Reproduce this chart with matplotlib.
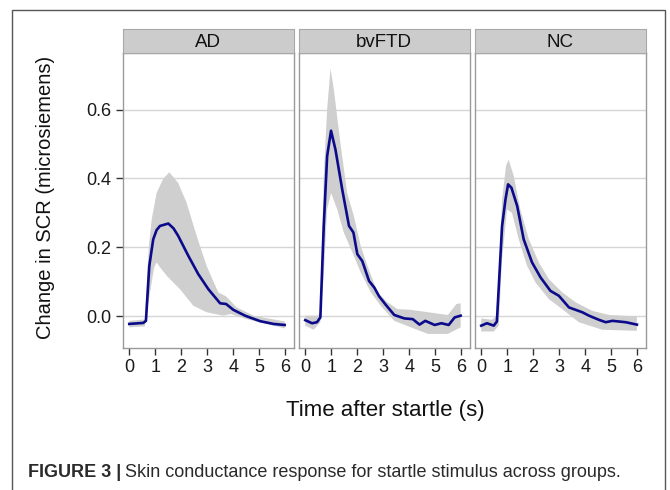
import numpy as np
import matplotlib.pyplot as plt
from matplotlib.patches import Rectangle

plt.rcParams['font.family'] = ['Liberation Sans', 'DejaVu Sans']

groups = ['AD', 'bvFTD', 'NC']

# mean curves (time in s, change in SCR) and band edges
ad_t = [0, 0.54, 0.64, 0.77, 0.92, 1.05, 1.18, 1.5, 1.7, 1.88, 2.27, 2.65, 3.04, 3.49, 3.72, 4.0, 4.45, 5.03, 5.54, 5.97]
ad_m = [-0.023, -0.02, -0.014, 0.146, 0.223, 0.25, 0.262, 0.269, 0.255, 0.233, 0.175, 0.122, 0.078, 0.037, 0.035, 0.018, 0.001, -0.015, -0.023, -0.026]
ad_hi_t = [0, 0.6, 0.75, 0.86, 1.05, 1.31, 1.54, 1.88, 2.2, 2.59, 2.97, 3.42, 3.72, 4.13, 4.77, 5.97]
ad_hi = [-0.014, -0.01, 0.2, 0.28, 0.358, 0.40, 0.418, 0.387, 0.33, 0.233, 0.146, 0.069, 0.057, 0.025, 0.001, -0.016]
ad_lo_t = [0, 0.6, 0.8, 0.95, 1.05, 1.2, 1.44, 1.95, 2.46, 2.97, 3.62, 3.9, 4.51, 5.97]
ad_lo = [-0.033, -0.03, 0.069, 0.14, 0.156, 0.14, 0.117, 0.078, 0.03, 0.011, 0.001, 0.006, -0.009, -0.036]

ftd_t = [0, 0.26, 0.45, 0.58, 0.71, 0.84, 0.99, 1.16, 1.42, 1.68, 1.85, 2.0, 2.19, 2.45, 2.65, 2.84, 3.1, 3.42, 3.81, 4.13, 4.39, 4.61, 4.97, 5.23, 5.51, 5.74, 5.97]
ftd_m = [-0.012, -0.021, -0.018, -0.004, 0.262, 0.465, 0.539, 0.484, 0.368, 0.262, 0.243, 0.18, 0.16, 0.102, 0.083, 0.057, 0.032, 0.003, -0.007, -0.009, -0.025, -0.014, -0.026, -0.021, -0.026, -0.004, 0.001]
ftd_hi_t = [0, 0.45, 0.58, 0.71, 0.84, 0.97, 1.1, 1.35, 1.61, 1.87, 2.13, 2.39, 2.77, 3.16, 3.55, 4.06, 4.71, 5.48, 5.81, 5.97]
ftd_hi = [0.001, 0.001, 0.006, 0.407, 0.6, 0.72, 0.658, 0.503, 0.358, 0.29, 0.204, 0.146, 0.069, 0.04, 0.02, 0.018, 0.011, 0.003, 0.035, 0.037]
ftd_lo_t = [0, 0.32, 0.58, 0.71, 0.84, 0.99, 1.23, 1.48, 1.81, 2.13, 2.52, 2.9, 3.42, 4.06, 4.71, 5.48, 5.97]
ftd_lo = [-0.028, -0.04, -0.018, 0.117, 0.31, 0.358, 0.31, 0.243, 0.185, 0.127, 0.069, 0.03, -0.014, -0.033, -0.052, -0.052, -0.033]

nc_t = [0, 0.22, 0.48, 0.6, 0.8, 0.93, 1.03, 1.16, 1.38, 1.63, 1.95, 2.28, 2.66, 2.98, 3.37, 3.88, 4.14, 4.52, 4.78, 5.04, 5.55, 5.98]
nc_m = [-0.028, -0.021, -0.028, -0.016, 0.262, 0.339, 0.383, 0.373, 0.32, 0.223, 0.156, 0.112, 0.073, 0.059, 0.025, 0.011, 0.001, -0.011, -0.018, -0.014, -0.018, -0.025]
nc_hi_t = [0, 0.41, 0.6, 0.8, 0.95, 1.05, 1.25, 1.5, 1.83, 2.21, 2.6, 3.11, 3.62, 4.27, 4.91, 5.98]
nc_hi = [-0.007, -0.011, 0.001, 0.339, 0.436, 0.455, 0.407, 0.31, 0.223, 0.156, 0.107, 0.069, 0.04, 0.015, 0.003, -0.001]
nc_lo_t = [0, 0.48, 0.67, 0.8, 0.99, 1.18, 1.44, 1.76, 2.08, 2.6, 3.11, 3.75, 4.65, 5.98]
nc_lo = [-0.045, -0.045, -0.028, 0.165, 0.31, 0.3, 0.223, 0.146, 0.098, 0.049, 0.02, -0.018, -0.04, -0.043]

curves = {
    'AD': (ad_t, ad_m, ad_hi_t, ad_hi, ad_lo_t, ad_lo),
    'bvFTD': (ftd_t, ftd_m, ftd_hi_t, ftd_hi, ftd_lo_t, ftd_lo),
    'NC': (nc_t, nc_m, nc_hi_t, nc_hi, nc_lo_t, nc_lo),
}

W, H = 670, 490
fig = plt.figure(figsize=(6.7, 4.9), dpi=100)

# outer frame
fig.patches.append(Rectangle((12 / W, -0.1), (665 - 12) / W, 1.1 - 10 / H,
                             transform=fig.transFigure, fill=False,
                             edgecolor='#555555', linewidth=1.0))

lefts = [122.5, 298.5, 474.5]
pw = 171
top, bottom = 53, 348

for i, g in enumerate(groups):
    ax = fig.add_axes([lefts[i] / W, (H - bottom) / H, pw / W, (bottom - top) / H])
    t, m, ht, hi, lt, lo = curves[g]
    xs = np.r_[ht, lt[::-1]]
    ys = np.r_[hi, lo[::-1]]
    ax.fill(xs, ys, color='#cfcfcf', linewidth=0, zorder=1)
    ax.plot(t, m, color='#0a0a8a', linewidth=1.9, zorder=3)
    ax.set_xlim(-0.26, 6.31)
    ax.set_ylim(-0.093, 0.765)
    ax.set_yticks([0.0, 0.2, 0.4, 0.6])
    ax.set_xticks(range(7))
    ax.grid(axis='y', color='#d6d6d6', linewidth=1.0)
    ax.set_axisbelow(True)
    for s in ax.spines.values():
        s.set_color('#9a9a9a')
        s.set_linewidth(1.0)
    ax.tick_params(axis='x', direction='out', length=5, width=1, color='#333333',
                   labelsize=13, labelcolor='#1a1a1a', pad=3)
    if i == 0:
        ax.set_yticklabels(['0.0', '0.2', '0.4', '0.6'])
        ax.tick_params(axis='y', direction='out', length=5, width=1, color='#333333',
                       labelsize=13, labelcolor='#1a1a1a', pad=3)
    else:
        ax.tick_params(axis='y', length=0, labelleft=False)

    # facet strip
    sax = fig.add_axes([lefts[i] / W, (H - top) / H, pw / W, 24 / H])
    sax.set_facecolor('#cccccc')
    sax.set_xticks([])
    sax.set_yticks([])
    for s in sax.spines.values():
        s.set_color('#a8a8a8')
    sax.text(0.5, 0.45, g, ha='center', va='center', fontsize=13.5, color='#111111',
             transform=sax.transAxes)

fig.text(46 / W, (H - 197) / H, 'Change in SCR (microsiemens)', rotation=90,
         ha='center', va='center', fontsize=14.5, color='#111111')
fig.text(385 / W, (H - 410) / H, 'Time after startle (s)', ha='center', va='center',
         fontsize=16, color='#111111')

# caption
cap1 = fig.text(28 / W, (H - 472) / H, 'FIGURE 3 |', ha='left', va='center',
                fontsize=13, fontweight='bold', color='#2a2a2a')
fig.canvas.draw()
bb = cap1.get_window_extent(renderer=fig.canvas.get_renderer())
fig.text((bb.x1 + 4) / W, (H - 472) / H,
         'Skin conductance response for startle stimulus across groups.',
         ha='left', va='center', fontsize=13, color='#2a2a2a')

fig.savefig('out.png', dpi=100)
